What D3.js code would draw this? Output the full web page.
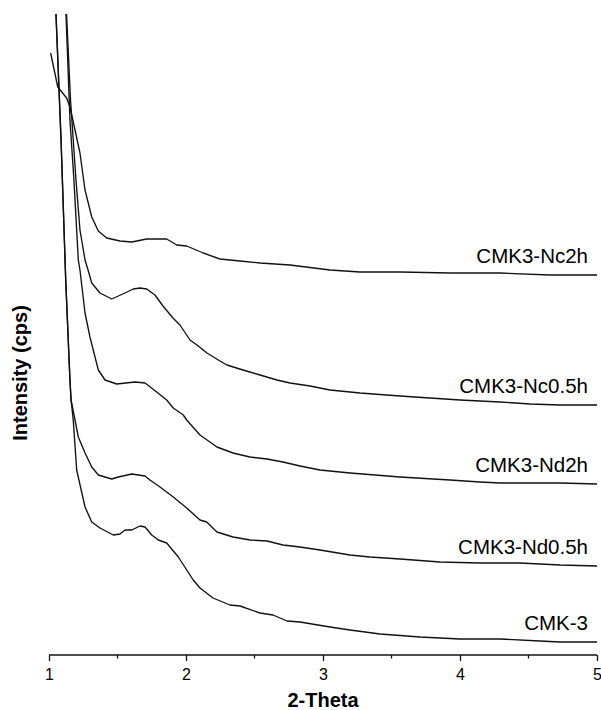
<!DOCTYPE html>
<html>
<head>
<meta charset="utf-8">
<script src="https://cdn.jsdelivr.net/npm/d3@7"></script>
<style>
  html, body { margin: 0; padding: 0; background: #fff; }
  svg { display: block; }
  text { font-family: "Liberation Sans", Arial, sans-serif; fill: #000; }
</style>
</head>
<body>
<svg id="chart" width="601" height="710"></svg>
<script>
// ---- data (2-Theta, intensity in arbitrary cps units) ----
const seriesNames = ["CMK3-Nc2h", "CMK3-Nc0.5h", "CMK3-Nd2h", "CMK3-Nd0.5h", "CMK-3"];

const nc2hX = [1.012, 1.064, 1.093, 1.129, 1.153, 1.190, 1.226, 1.263, 1.312, 1.360, 1.421, 1.518, 1.604, 1.713, 1.859, 1.932, 2.005, 2.126, 2.248, 2.394, 2.540, 2.759, 3.051, 3.270, 3.562, 3.927, 4.292, 4.657, 5.000];
const nc2hY = [602, 568, 563, 557, 548, 525, 502, 465, 438, 424, 417, 414, 413, 416, 416, 410, 409, 402, 396, 394, 392, 390, 385, 383, 383, 382, 382, 380, 380];

const nc05hX = [1.123, 1.128, 1.157, 1.197, 1.226, 1.263, 1.285, 1.312, 1.372, 1.458, 1.555, 1.615, 1.664, 1.713, 1.774, 1.832, 1.905, 1.956, 2.029, 2.080, 2.153, 2.248, 2.299, 2.416, 2.540, 2.664, 2.759, 2.905, 3.051, 3.270, 3.562, 3.781, 4.000, 4.292, 4.511, 4.730, 5.000];
const nc05hY = [655, 641, 555, 475, 425, 395, 385, 372, 362, 356, 362, 366, 367, 366, 360, 349, 337, 330, 315, 310, 302, 294, 290, 285, 280, 275, 272, 269, 265, 262, 259, 257, 255, 253, 251, 250, 250];

const nd2hX = [1.121, 1.124, 1.153, 1.182, 1.214, 1.226, 1.263, 1.299, 1.360, 1.409, 1.494, 1.628, 1.701, 1.786, 1.859, 1.907, 1.980, 2.005, 2.102, 2.226, 2.343, 2.467, 2.591, 2.708, 2.832, 2.978, 3.197, 3.562, 3.927, 4.146, 4.292, 4.730, 5.000];
const nd2hY = [655, 641, 535, 475, 395, 385, 342, 318, 285, 275, 271, 273, 272, 263, 255, 247, 240, 235, 220, 208, 202, 198, 196, 193, 189, 185, 182, 178, 175, 173, 172, 172, 171];

const nd05hX = [1.048, 1.051, 1.088, 1.122, 1.153, 1.161, 1.190, 1.214, 1.263, 1.312, 1.360, 1.458, 1.506, 1.604, 1.701, 1.737, 1.810, 1.907, 2.005, 2.102, 2.151, 2.226, 2.343, 2.467, 2.591, 2.708, 2.832, 2.978, 3.197, 3.343, 3.562, 3.854, 4.146, 4.438, 4.730, 5.000];
const nd05hY = [655, 641, 515, 375, 275, 255, 235, 218, 202, 188, 180, 176, 178, 181, 179, 175, 168, 158, 147, 135, 133, 123, 118, 115, 114, 110, 108, 105, 100, 98, 96, 93, 92, 92, 90, 89];

const cmk3X = [1.048, 1.051, 1.088, 1.122, 1.153, 1.161, 1.177, 1.202, 1.263, 1.312, 1.372, 1.469, 1.518, 1.555, 1.604, 1.664, 1.701, 1.750, 1.798, 1.859, 1.944, 2.053, 2.102, 2.197, 2.321, 2.394, 2.540, 2.635, 2.737, 2.832, 3.051, 3.197, 3.416, 3.708, 4.000, 4.292, 4.584, 4.730, 5.000];
const cmk3Y = [655, 641, 515, 375, 275, 255, 235, 185, 148, 133, 127, 120, 121, 125, 125, 129, 128, 120, 115, 112, 98, 75, 67, 57, 50, 49, 42, 40, 34, 33, 28, 25, 21, 18, 16, 16, 14, 13, 13];

const xTicks = [1, 2, 3, 4, 5];
const xMinorTicks = [1.5, 2.5, 3.5, 4.5];
const xDomain = [1, 5];
const yDomain = [0, 641];

const seriesX = [nc2hX, nc05hX, nd2hX, nd05hX, cmk3X];
const seriesY = [nc2hY, nc05hY, nd2hY, nd05hY, cmk3Y];

// ---- layout ----
const mLeft = 49, mRight = 597, mTop = 14, mBottom = 655;
const svg = d3.select("#chart");

const x = d3.scaleLinear().domain(xDomain).range([mLeft, mRight]);
const y = d3.scaleLinear().domain(yDomain).range([mBottom, mTop]);

svg.append("defs").append("clipPath").attr("id", "plotclip")
  .append("rect").attr("x", mLeft - 2).attr("y", mTop).attr("width", mRight - mLeft + 4).attr("height", mBottom - mTop);

const line = d3.line().x(d => x(d[0])).y(d => y(d[1])).curve(d3.curveLinear);

const plot = svg.append("g").attr("clip-path", "url(#plotclip)");
seriesNames.forEach((name, i) => {
  const pts = seriesX[i].map((v, j) => [v, seriesY[i][j]]);
  plot.append("path")
    .datum(pts)
    .attr("d", line)
    .attr("fill", "none")
    .attr("stroke", "#111")
    .attr("stroke-width", 1.35)
    .attr("stroke-linejoin", "round");
});

// series labels
seriesNames.forEach((name, i) => {
  const ys = seriesY[i];
  svg.append("text")
    .attr("x", 588)
    .attr("y", y(ys[ys.length - 1]) - 12)
    .attr("text-anchor", "end")
    .style("font-size", "20.5px")
    .text(name);
});

// x axis
const xAxis = svg.append("g").attr("transform", `translate(0,${mBottom})`);
xAxis.call(d3.axisBottom(x).tickValues(xTicks).tickFormat(d3.format("d")).tickSize(6).tickPadding(8))
  .call(g => g.select(".domain").attr("stroke", "#111").attr("stroke-width", 1.4).attr("d", `M${mLeft},0H${mRight}`))
  .call(g => g.selectAll(".tick line").attr("stroke", "#111").attr("stroke-width", 1.3))
  .call(g => g.selectAll(".tick text").style("font-size", "16px").style("font-family", '"Liberation Sans", Arial, sans-serif').attr("fill", "#000"));

svg.append("g").attr("transform", `translate(0,${mBottom})`)
  .selectAll("line").data(xMinorTicks).join("line")
  .attr("x1", d => x(d)).attr("x2", d => x(d))
  .attr("y1", 0).attr("y2", 3.5)
  .attr("stroke", "#111").attr("stroke-width", 1.3);

// axis titles
svg.append("text")
  .attr("x", (mLeft + mRight) / 2)
  .attr("y", 707)
  .attr("text-anchor", "middle")
  .style("font-size", "20px")
  .style("font-weight", "bold")
  .text("2-Theta");

svg.append("text")
  .attr("transform", `translate(27,373) rotate(-90)`)
  .attr("text-anchor", "middle")
  .style("font-size", "20px")
  .style("font-weight", "bold")
  .text("Intensity (cps)");
</script>
</body>
</html>
